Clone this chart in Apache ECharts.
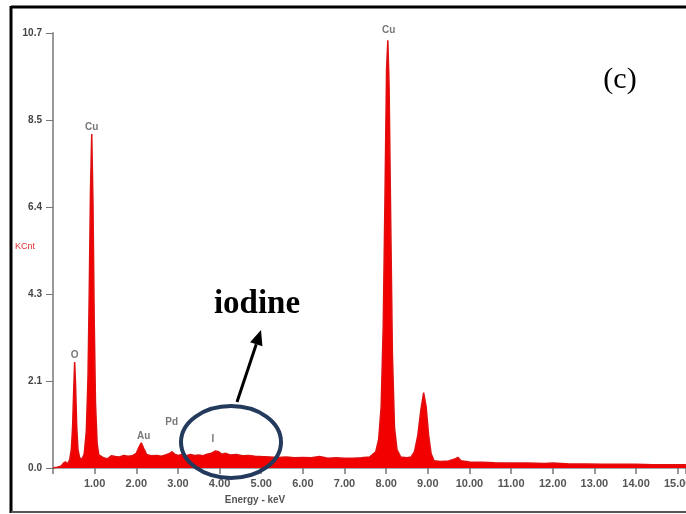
<!DOCTYPE html>
<html><head><meta charset="utf-8">
<script src="https://cdn.jsdelivr.net/npm/echarts@6/dist/echarts.min.js"></script>
<style>html,body{margin:0;padding:0;background:#fff}#c{width:686px;height:514px}</style>
</head><body><div id="c"></div>
<script>
// Spectrum samples (keV, KCnt)
const energy = [0.00,0.10,0.20,0.25,0.30,0.35,0.40,0.44,0.47,0.50,0.52,0.54,0.57,0.60,0.64,0.70,0.75,0.80,0.84,0.87,0.90,0.93,0.96,0.99,1.02,1.06,1.10,1.20,1.30,1.40,1.50,1.60,1.70,1.80,1.90,2.00,2.06,2.12,2.18,2.25,2.35,2.50,2.60,2.70,2.80,2.86,2.92,3.00,3.10,3.20,3.30,3.40,3.50,3.60,3.70,3.80,3.90,3.94,3.98,4.05,4.15,4.25,4.40,4.55,4.70,4.85,5.00,5.20,5.40,5.60,5.80,6.00,6.20,6.40,6.60,6.80,7.00,7.20,7.40,7.60,7.75,7.82,7.88,7.93,7.97,8.01,8.04,8.07,8.11,8.15,8.20,8.26,8.35,8.50,8.60,8.68,8.76,8.83,8.90,8.96,9.02,9.08,9.15,9.30,9.50,9.65,9.72,9.80,10.00,10.30,10.60,11.00,11.40,11.80,12.00,12.40,12.80,13.20,13.60,14.00,14.40,14.80,15.20];
const counts = [0.00,0.02,0.05,0.12,0.15,0.10,0.20,0.45,1.00,2.00,2.60,2.10,1.00,0.45,0.25,0.22,0.35,0.90,2.20,4.30,6.80,8.20,6.50,3.60,1.60,0.60,0.32,0.26,0.22,0.30,0.28,0.27,0.31,0.29,0.30,0.36,0.50,0.62,0.48,0.33,0.30,0.31,0.29,0.32,0.36,0.40,0.34,0.31,0.33,0.30,0.33,0.31,0.32,0.30,0.34,0.36,0.42,0.46,0.40,0.34,0.36,0.32,0.33,0.30,0.31,0.29,0.28,0.27,0.26,0.27,0.25,0.26,0.25,0.28,0.24,0.25,0.24,0.24,0.25,0.27,0.40,0.70,1.50,3.50,6.50,9.80,10.50,9.40,6.00,2.80,1.00,0.45,0.27,0.25,0.27,0.40,0.80,1.40,1.85,1.50,0.80,0.35,0.18,0.16,0.17,0.22,0.26,0.18,0.15,0.14,0.13,0.12,0.12,0.11,0.12,0.10,0.10,0.09,0.09,0.09,0.08,0.08,0.08];
// Peak labels
const peakNames = ['O','Cu','Au','Pd','I','Cu'];
const peakX = [0.52,0.93,2.18,2.85,3.84,8.06];
const peakY = [2.76,8.36,0.79,1.13,0.71,10.75];
// Axis tick labels
const yTickLabels = ['0.0','2.1','4.3','6.4','8.5','10.7'];
const yMax = 10.68, yStep = 2.136;
const xMax = 15.2;

const chart = echarts.init(document.getElementById('c'));
const spec = energy.map((e,i)=>[e,counts[i]]);
const peaks = peakNames.map((n,i)=>({value:[peakX[i],peakY[i]],name:n}));

// arrow geometry
const tip=[261,330], tail=[237,402];
const dx=tip[0]-tail[0], dy=tip[1]-tail[1], L=Math.hypot(dx,dy), ux=dx/L, uy=dy/L;
const hl=15, hw=6.5;
const bx=tip[0]-hl*ux, by=tip[1]-hl*uy;

chart.setOption({
  animation:false,
  grid:{left:53,right:0,top:33,bottom:46,containLabel:false,outerBoundsMode:'none'},
  xAxis:{type:'value',min:0,max:xMax,interval:1,
    axisLine:{show:true,onZero:false,lineStyle:{color:'#888',width:1.5}},
    axisTick:{show:true,length:6,lineStyle:{color:'#777',width:1.5}},
    splitLine:{show:false},
    axisLabel:{margin:10,color:'#555',fontSize:11,fontWeight:'bold',fontFamily:'Liberation Sans',hideOverlap:false,
      formatter:v=>(v===0||Math.abs(v-Math.round(v))>1e-6)?'':v.toFixed(2)}},
  yAxis:{type:'value',min:0,max:yMax,interval:yStep,
    axisLine:{show:true,lineStyle:{color:'#999',width:2}},
    axisTick:{show:true,length:7,lineStyle:{color:'#777',width:1}},
    splitLine:{show:false},
    axisLabel:{margin:11,color:'#444',fontSize:10,fontWeight:'bold',fontFamily:'Liberation Sans',
      formatter:v=>yTickLabels[Math.round(v/yStep)]||''}},
  series:[
    {type:'line',data:spec,symbol:'none',smooth:false,
      lineStyle:{color:'#e01010',width:1.5},
      areaStyle:{color:'#f20000',opacity:1},z:2},
    {type:'scatter',data:peaks,symbolSize:0,clip:false,z:3,
      label:{show:true,position:'inside',formatter:p=>p.name,color:'#555',fontSize:10,fontWeight:'bold',fontFamily:'Liberation Sans'}}
  ],
  graphic:[
    {type:'line',shape:{x1:11,y1:7,x2:686,y2:7},style:{stroke:'#000',lineWidth:3}},
    {type:'line',shape:{x1:11,y1:6,x2:11,y2:513},style:{stroke:'#000',lineWidth:3}},
    {type:'line',shape:{x1:11,y1:512,x2:686,y2:512},style:{stroke:'#555',lineWidth:2}},
    {type:'text',left:15,top:242,style:{text:'KCnt',fill:'#e03030',font:'9px Liberation Sans'}},
    {type:'text',x:255,y:500,style:{text:'Energy - keV',fill:'#555',font:'bold 10px Liberation Sans',textAlign:'center',textVerticalAlign:'middle'}},
    {type:'text',x:620,y:80,style:{text:'(c)',fill:'#000',font:'30px Liberation Serif',textAlign:'center',textVerticalAlign:'middle'}},
    {type:'text',x:257,y:304,style:{text:'iodine',fill:'#000',font:'bold 33px Liberation Serif',textAlign:'center',textVerticalAlign:'middle'}},
    {type:'line',shape:{x1:tail[0],y1:tail[1],x2:bx,y2:by},style:{stroke:'#000',lineWidth:3}},
    {type:'polygon',shape:{points:[tip,[bx+hw*(-uy),by+hw*ux],[bx-hw*(-uy),by-hw*ux]]},style:{fill:'#000'}},
    {type:'ellipse',shape:{cx:231,cy:442,rx:50,ry:36},style:{fill:null,stroke:'#233a5c',lineWidth:4},z:10}
  ]
});
</script></body></html>
